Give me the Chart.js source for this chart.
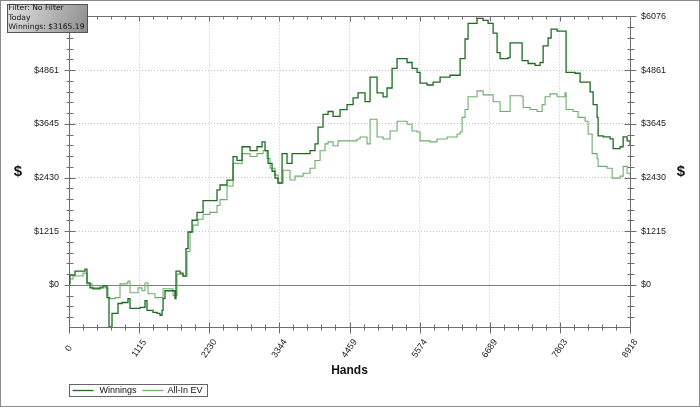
<!DOCTYPE html>
<html>
<head>
<meta charset="utf-8">
<script src="https://cdn.jsdelivr.net/npm/chart.js@4"></script>
<style>
  body { margin: 0; background: #fff; }
  canvas { display: block; }
</style>
</head>
<body>
<canvas id="graph" width="700" height="407"></canvas>
<script>
// hand numbers / dollar values
const winHands = [0,16,95,254,286,334,382,493,541,604,636,668,684,779,843,922,938,970,1097,1129,1208,1240,1288,1336,1399,1447,1479,1495,1526,1606,1685,1701,1765,1813,1860,1892,1956,2035,2131,2242,2353,2401,2512,2608,2671,2751,2878,2989,3069,3116,3164,3228,3275,3323,3387,3466,3546,3673,3832,3911,3959,4039,4118,4198,4309,4420,4516,4595,4627,4706,4786,4865,4897,4993,5056,5136,5215,5374,5454,5533,5581,5692,5788,5899,6058,6169,6217,6296,6344,6455,6487,6583,6662,6742,6805,6853,6901,6980,7012,7171,7203,7298,7409,7489,7537,7616,7664,7759,7855,7902,8045,8125,8236,8284,8332,8395,8411,8491,8602,8650,8761,8809,8872,8918];
const winnings = [22,222,310,355,44,-67,-89,-67,-22,-288,-950,-1000,-643,-421,-399,-399,-310,-532,-532,-510,-355,-576,-576,-621,-643,-687,-576,-310,-133,-133,-310,310,266,200,820,1197,1463,1641,1907,1907,2150,2261,2372,2904,2816,3126,3037,3126,3237,3037,2749,2572,2417,2306,2971,2749,2971,2971,3037,3192,3569,3858,3924,3813,3968,4079,4234,4345,4345,4146,4700,4700,4345,4257,4456,4900,5121,5033,4900,4811,4567,4523,4589,4700,4744,4744,5121,5565,5919,5919,6030,5986,5919,5698,5254,5121,5121,5143,5476,5476,5077,5010,4966,5033,5409,5587,5786,5742,5742,4811,4789,4589,4589,4367,4079,3791,3370,3348,3303,3082,3126,3348,3259,3165];

const evHands = [0,64,223,286,366,493,572,620,652,731,811,922,938,970,1097,1161,1208,1256,1367,1447,1495,1606,1654,1717,1813,1876,1924,1972,2051,2131,2242,2353,2401,2512,2608,2751,2878,2989,3085,3148,3196,3275,3323,3403,3514,3593,3721,3832,3911,3991,4070,4118,4198,4277,4420,4579,4627,4738,4786,4834,4897,4993,5104,5215,5374,5454,5533,5581,5740,5851,6010,6169,6217,6249,6296,6344,6487,6583,6742,6853,6964,7012,7203,7219,7330,7441,7521,7568,7648,7759,7886,7902,8014,8093,8204,8252,8316,8395,8411,8554,8634,8761,8809,8872,8918];
const allInEv = [133,200,266,22,-67,-22,-67,-288,-310,-288,22,44,89,-177,-67,-133,44,-200,-288,-288,-89,-89,-244,244,200,754,1197,1352,1485,1596,1641,1796,1929,2239,2749,2971,2904,2971,3037,2860,2638,2483,2306,2594,2372,2461,2527,2638,2816,3037,3192,3237,3148,3259,3259,3303,3348,3192,3747,3747,3348,3303,3481,3702,3636,3481,3459,3259,3237,3303,3348,3414,3459,3791,3968,4257,4390,4301,4146,3924,3924,4279,4257,4013,3968,3924,4079,4257,4323,4257,4345,3968,3924,3791,3702,3414,2971,2860,2683,2638,2417,2461,2683,2527,2483];

const handTicks = [0,1115,2230,3344,4459,5574,6689,7803,8918];
const dollarTicks = [0,1215,2430,3645,4861,6076];
const yMin = -953;
const yMax = 6076;

const infoLines = ["Filter: No Filter", "Today", "Winnings: $3165.19"];
const seriesNames = ["Winnings", "All-In EV"];
const seriesColors = ["#1f6b22", "#6cae6c"];

function toPoints(xs, ys) {
    return xs.map((x, i) => ({ x: x, y: ys[i] }));
}

function minorValues(majors, below) {
    let out = [];
    for (let i = 0; i < majors.length - 1; i++) {
        let step = (majors[i + 1] - majors[i]) / 5;
        for (let k = 1; k < 5; k++) out.push(majors[i] + k * step);
    }
    if (below !== undefined) {
        let step = (majors[1] - majors[0]) / 5;
        for (let v = majors[0] - step; v >= below; v -= step) out.push(v);
    }
    return out;
}

const axisFont = "9px 'Liberation Sans', Arial, sans-serif";

// ticks, zero line, frame, rotated hand labels, "$" titles, legend and info box
const decorations = {
    id: "decorations",
    beforeDatasetsDraw(chart) {
        const ctx = chart.ctx;
        const area = chart.chartArea;
        const y = chart.scales.y;
        const y0 = Math.round(y.getPixelForValue(0)) + 0.5;
        ctx.save();
        ctx.strokeStyle = "#808080";
        ctx.lineWidth = 1;
        ctx.beginPath();
        ctx.moveTo(area.left, y0);
        ctx.lineTo(area.right, y0);
        ctx.stroke();
        ctx.restore();
    },
    afterDraw(chart) {
        const ctx = chart.ctx;
        const area = chart.chartArea;
        const x = chart.scales.x;
        const y = chart.scales.y;
        const top = Math.round(area.top) + 0.5;
        const bottom = Math.round(area.bottom) + 0.5;
        const left = Math.round(area.left) + 0.5;
        const right = Math.round(area.right) + 0.5;

        ctx.save();
        ctx.strokeStyle = "#6e6e6e";
        ctx.lineWidth = 1;

        // top axis line
        ctx.beginPath();
        ctx.moveTo(left, top);
        ctx.lineTo(right, top);
        ctx.stroke();

        ctx.beginPath();
        handTicks.forEach(v => {
            let px = Math.round(x.getPixelForValue(v)) + 0.5;
            ctx.moveTo(px, bottom - 5); ctx.lineTo(px, bottom + 6);
            ctx.moveTo(px, top); ctx.lineTo(px, top + 5);
        });
        minorValues(handTicks).forEach(v => {
            let px = Math.round(x.getPixelForValue(v)) + 0.5;
            ctx.moveTo(px, bottom - 3); ctx.lineTo(px, bottom + 3);
            ctx.moveTo(px, top); ctx.lineTo(px, top + 3);
        });
        dollarTicks.forEach(v => {
            let py = Math.round(y.getPixelForValue(v)) + 0.5;
            ctx.moveTo(left - 5, py); ctx.lineTo(left + 6, py);
            ctx.moveTo(right - 6, py); ctx.lineTo(right + 6, py);
        });
        minorValues(dollarTicks, yMin).forEach(v => {
            let py = Math.round(y.getPixelForValue(v)) + 0.5;
            ctx.moveTo(left - 3, py); ctx.lineTo(left + 4, py);
            ctx.moveTo(right - 3, py); ctx.lineTo(right + 4, py);
        });
        ctx.stroke();

        // rotated hand labels
        ctx.fillStyle = "#222";
        ctx.font = axisFont;
        ctx.textAlign = "center";
        ctx.textBaseline = "middle";
        handTicks.forEach(v => {
            ctx.save();
            ctx.translate(x.getPixelForValue(v), bottom + 21);
            ctx.rotate(-55 * Math.PI / 180);
            ctx.fillText(String(v), 0, 0);
            ctx.restore();
        });

        // "$" titles
        const midY = (area.top + area.bottom) / 2;
        ctx.font = "bold 15px 'Liberation Sans', Arial, sans-serif";
        ctx.fillStyle = "#111";
        ctx.fillText("$", area.left - 51, midY);
        ctx.fillText("$", area.right + 51, midY);

        // legend
        const lx = left;
        const ly = 384.5;
        ctx.strokeStyle = "#666";
        ctx.strokeRect(lx, ly, 138, 12);
        ctx.font = axisFont;
        ctx.textAlign = "left";
        ctx.fillStyle = "#111";
        const sampleX = [lx + 3, lx + 73];
        const textX = [lx + 30, lx + 98];
        seriesNames.forEach((name, i) => {
            ctx.strokeStyle = seriesColors[i];
            ctx.lineWidth = 1.3;
            ctx.beginPath();
            ctx.moveTo(sampleX[i], ly + 6);
            ctx.lineTo(sampleX[i] + 21, ly + 6);
            ctx.stroke();
            ctx.fillText(name, textX[i], ly + 6.5);
        });

        // info box
        const bx = 7.5, by = 4.5, bw = 80, bh = 28;
        let grad = ctx.createLinearGradient(bx, by, bx + bw, by + bh);
        grad.addColorStop(0, "#e2e2e2");
        grad.addColorStop(1, "#8e8e8e");
        ctx.fillStyle = grad;
        ctx.fillRect(bx, by, bw, bh);
        ctx.strokeStyle = "#555";
        ctx.lineWidth = 1;
        ctx.strokeRect(bx, by, bw, bh);
        ctx.fillStyle = "#111";
        ctx.font = "7.6px 'DejaVu Sans', Verdana, sans-serif";
        ctx.textBaseline = "middle";
        infoLines.forEach((t, i) => ctx.fillText(t, bx + 1, by + 4 + i * 9.5));

        // outer frame
        ctx.strokeStyle = "#8a8a8a";
        ctx.strokeRect(0.5, 0.5, 699, 406);
        ctx.restore();
    }
};

document.addEventListener("DOMContentLoaded", function () {
    const ctx = document.getElementById("graph").getContext("2d");

    const gridColor = c => (c.tick && c.tick.value === 0 ? "rgba(0,0,0,0)" : "#c4c4c4");

    new Chart(ctx, {
        type: "line",
        data: {
            datasets: [
                {
                    label: seriesNames[0],
                    data: toPoints(winHands, winnings),
                    borderColor: seriesColors[0],
                    borderWidth: 1.3,
                    pointRadius: 0,
                    stepped: true
                },
                {
                    label: seriesNames[1],
                    data: toPoints(evHands, allInEv),
                    borderColor: seriesColors[1],
                    borderWidth: 1.1,
                    pointRadius: 0,
                    stepped: true
                }
            ]
        },
        options: {
            responsive: false,
            animation: false,
            events: [],
            layout: { padding: { top: 10, left: 0, right: 0, bottom: 0 } },
            plugins: {
                legend: { display: false },
                tooltip: { enabled: false }
            },
            scales: {
                x: {
                    type: "linear",
                    position: "bottom",
                    min: 0,
                    max: 8918,
                    afterBuildTicks: s => { s.ticks = handTicks.map(v => ({ value: v })); },
                    afterFit: s => { s.height = 80; },
                    ticks: { display: false },
                    grid: { color: "#c4c4c4", lineWidth: 1, drawTicks: false },
                    border: { display: true, color: "#6e6e6e", dash: [1, 2] },
                    title: {
                        display: true,
                        text: "Hands",
                        color: "#111",
                        font: { family: "'Liberation Sans', Arial, sans-serif", size: 12, weight: "bold" },
                        padding: { top: 0, bottom: 29 }
                    }
                },
                y: {
                    position: "left",
                    min: yMin,
                    max: yMax,
                    afterBuildTicks: s => { s.ticks = dollarTicks.map(v => ({ value: v })); },
                    afterFit: s => { s.width = 69; },
                    ticks: {
                        color: "#222",
                        font: { family: "'Liberation Sans', Arial, sans-serif", size: 9 },
                        padding: 10,
                        callback: v => "$" + v
                    },
                    grid: { color: gridColor, lineWidth: 1, drawTicks: false },
                    border: { display: true, color: "#6e6e6e", dash: [1, 2] }
                },
                y2: {
                    position: "right",
                    min: yMin,
                    max: yMax,
                    afterBuildTicks: s => { s.ticks = dollarTicks.map(v => ({ value: v })); },
                    afterFit: s => { s.width = 70; },
                    ticks: {
                        color: "#222",
                        font: { family: "'Liberation Sans', Arial, sans-serif", size: 9 },
                        padding: 11,
                        callback: v => "$" + v
                    },
                    grid: { drawOnChartArea: false, drawTicks: false },
                    border: { display: true, color: "#6e6e6e" }
                }
            }
        },
        plugins: [decorations]
    });
});
</script>
</body>
</html>
